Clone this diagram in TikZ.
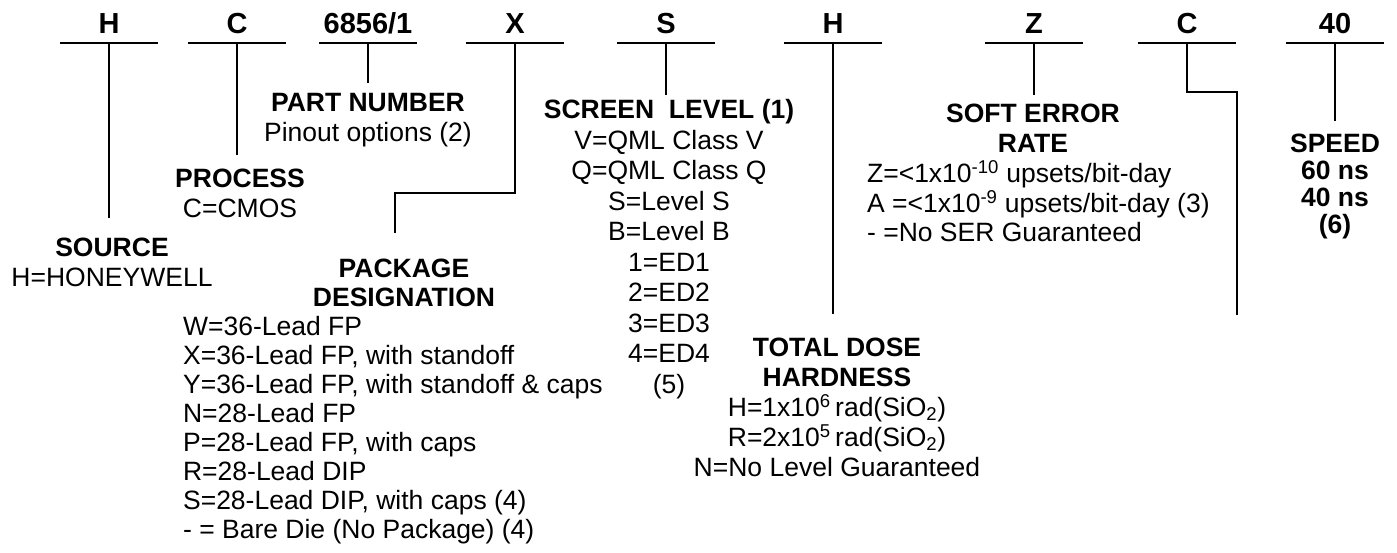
\documentclass[tikz,border=0pt]{standalone}
\usepackage{fontspec}
\setmainfont{Liberation Sans}
\usetikzlibrary{positioning}
\newcommand{\capstrut}{\rule{0pt}{20pt}}

\tikzset{
  codebox/.style={font=\fontsize{29}{29}\selectfont\bfseries, minimum width=96pt,
    inner sep=0pt, text height=21pt, text depth=8pt, anchor=south},
  txtblock/.style={font=\fontsize{26.5}{#1}\selectfont, align=center, inner sep=0pt, anchor=north},
  txtblock/.default=29.5,
  txtlist/.style={txtblock=#1, align=left, anchor=north west},
  txtlist/.default=29
}

\begin{document}
\begin{tikzpicture}[x=1pt, y=-1pt, line width=2.2pt]
  \useasboundingbox (0,0) rectangle (1397,552);
  % order code
  \node[codebox] (hSrc) at (109,43) {H};
  \node[codebox] (cProc) at (237,43) {C};
  \node[codebox] (pNum) at (368,43) {6856/1};
  \node[codebox] (xPkg) at (515,43) {X};
  \node[codebox] (sScr) at (666,43) {S};
  \node[codebox] (hTot) at (833,43) {H};
  \node[codebox] (zSer) at (1034,43) {Z};
  \node[codebox] (cOpt) at (1187,43) {C};
  \node[codebox] (spd) at (1335,43) {40};
  \foreach \n in {hSrc,cProc,pNum,xPkg,sScr,hTot,zSer,cOpt,spd}
    \draw (\n.south west) -- (\n.south east);

  % field descriptions
  \node[txtblock] (src) at (112,235.5) {\capstrut\textbf{SOURCE}\\H=HONEYWELL};
  \node[txtblock] (proc) at (240,166.5) {\capstrut\textbf{PROCESS}\\C=CMOS};
  \node[txtblock] (part) at (368,90.5) {\capstrut\textbf{PART NUMBER}\\Pinout options (2)};
  \node[txtblock=29] (pkg) at (404,256.5) {\capstrut\textbf{PACKAGE}\\\textbf{DESIGNATION}};
  \node[txtlist] (pkgList) at (182,314.5) {\capstrut W=36-Lead FP\\
    X=36-Lead FP, with standoff\\
    Y=36-Lead FP, with standoff \& caps\\
    N=28-Lead FP\\
    P=28-Lead FP, with caps\\
    R=28-Lead DIP\\
    S=28-Lead DIP, with caps (4)\\
    - = Bare Die (No Package) (4)};
  \node[txtblock=30.5] (scr) at (669,97.5) {\capstrut\textbf{SCREEN~~LEVEL (1)}\\
    V=QML Class V\\Q=QML Class Q\\S=Level S\\B=Level B\\
    1=ED1\\2=ED2\\3=ED3\\4=ED4\\(5)};
  \node[txtblock=30] (tot) at (837,335.5) {\capstrut\textbf{TOTAL DOSE}\\\textbf{HARDNESS}\\
    H=1x10\textsuperscript{6}\,rad(SiO\textsubscript{2})\\
    R=2x10\textsuperscript{5}\,rad(SiO\textsubscript{2})\\
    N=No Level Guaranteed};
  \node[txtblock] (ser) at (1033,101.5) {\capstrut\textbf{SOFT ERROR}\\\textbf{RATE}};
  \node[txtlist=29.5] (serList) at (866,159.5) {\capstrut Z=<1x10\textsuperscript{-10} upsets/bit-day\\
    A =<1x10\textsuperscript{-9} upsets/bit-day (3)\\
    - =No SER Guaranteed};
  \node[txtblock=27] (speed) at (1335,131.5) {\capstrut\textbf{SPEED}\\\textbf{60 ns}\\\textbf{40 ns}\\\textbf{(6)}};

  % connectors
  \draw[shorten >=18pt] (hSrc.south) -- (hSrc.south |- src.north);
  \draw[shorten >=12pt] (cProc.south) -- (cProc.south |- proc.north);
  \draw[shorten >=8pt] (pNum.south) -- (pNum.south |- part.north);
  \draw (xPkg.south) -- ++(0,150) -| ([xshift=-9pt, yshift=24pt]pkg.north);
  \draw[shorten >=3pt] (sScr.south) -- (sScr.south |- scr.north);
  \draw[shorten >=22pt] (hTot.south) -- (hTot.south |- tot.north);
  \draw[shorten >=7pt] (zSer.south) -- (zSer.south |- ser.north);
  \coordinate (cEnd) at (1237,315);
  \draw (cOpt.south) -- ++(0,49) -| (cEnd);
  \draw[shorten >=11pt] (spd.south) -- (spd.south |- speed.north);
\end{tikzpicture}
\end{document}
